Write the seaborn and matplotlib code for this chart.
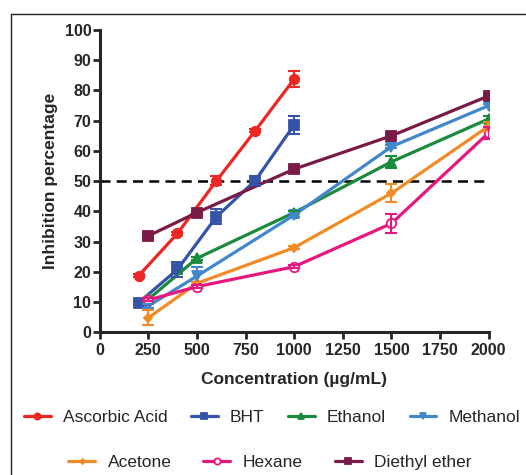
import numpy as np
import pandas as pd
import matplotlib
matplotlib.use('Agg')
import matplotlib.pyplot as plt
from matplotlib.lines import Line2D
import seaborn as sns

# data
conc_std = [200, 400, 600, 800, 1000]
conc_ext = [250, 500, 1000, 1500, 2000]

ascorbic = [18.7, 32.7, 50.1, 66.7, 83.8]
ascorbic_err = [0.5, 0.5, 1.5, 0.5, 2.5]
bht = [9.8, 20.8, 38.2, 50.2, 68.6]
bht_err = [0.5, 2.5, 2.5, 1.5, 3.0]
ethanol = [10.9, 24.5, 39.6, 56.4, 70.6]
ethanol_err = [0.5, 0.5, 0.5, 2.0, 1.0]
methanol = [8.7, 18.6, 38.8, 61.4, 75.0]
methanol_err = [0.5, 3.0, 0.5, 0.5, 0.5]
acetone = [4.8, 16.2, 28.0, 46.0, 68.2]
acetone_err = [2.5, 0.5, 0.5, 3.0, 1.5]
hexane = [10.7, 15.1, 21.7, 36.0, 66.0]
hexane_err = [0.5, 0.5, 0.5, 3.0, 2.0]
diethyl = [31.9, 39.6, 54.0, 65.0, 78.2]
diethyl_err = [0.5, 0.5, 0.5, 0.5, 0.5]

series = [
    ('Ascorbic Acid', conc_std, ascorbic, ascorbic_err, '#ee2624', 'o', 6.8, True),
    ('BHT', conc_std, bht, bht_err, '#3553a8', 's', 6.8, True),
    ('Ethanol', conc_ext, ethanol, ethanol_err, '#1b8a3c', '^', 7, True),
    ('Methanol', conc_ext, methanol, methanol_err, '#4287cc', 'v', 7, True),
    ('Acetone', conc_ext, acetone, acetone_err, '#f28b25', 'D', 3.8, True),
    ('Hexane', conc_ext, hexane, hexane_err, '#e8177f', 'o', 6.8, False),
    ('Diethyl ether', conc_ext, diethyl, diethyl_err, '#7a1a46', 's', 7.5, True),
]

sns.set_style('ticks')
plt.rcParams['font.family'] = ['Liberation Sans', 'DejaVu Sans']

fig = plt.figure(figsize=(5.26, 4.75), dpi=100)
ax = fig.add_axes([0.1895, 0.3004, 0.7395, 0.6364])

for name, xs, ys, errs, col, mk, ms, filled in series:
    df = pd.DataFrame({'x': xs, 'y': ys})
    kw = dict(markerfacecolor=col) if filled else dict(markerfacecolor='white')
    sns.lineplot(data=df, x='x', y='y', ax=ax, color=col, marker=mk,
                 markersize=ms, markeredgecolor=col, markeredgewidth=1.3,
                 linewidth=2.3, label=name, zorder=3, **kw)
    ax.errorbar(xs, ys, yerr=errs, fmt='none', ecolor=col, elinewidth=1.5,
                capsize=4, capthick=1.5, zorder=4)

ax.axhline(50, color='black', linestyle=(0, (4, 2.5)), linewidth=1.8, zorder=2)

ax.set_xlim(0, 2000)
ax.set_ylim(0, 100)
ax.set_xticks(np.arange(0, 2001, 250))
ax.set_yticks(np.arange(0, 101, 10))
for lab in ax.get_xticklabels() + ax.get_yticklabels():
    lab.set_fontweight('bold')
ax.tick_params(axis='both', labelsize=11.5, width=2, length=5, direction='out')
ax.tick_params(axis='x', pad=3)
ax.tick_params(axis='y', pad=1)
for s in ['left', 'bottom']:
    ax.spines[s].set_linewidth(2.2)
sns.despine(ax=ax)

ax.set_xlabel('Concentration (µg/mL)', fontsize=12.5, fontweight='bold', labelpad=10)
ax.set_ylabel('Inhibition percentage', fontsize=12.5, fontweight='bold', labelpad=5)

handles, labels = ax.get_legend_handles_labels()
ax.get_legend().remove()
leg1 = fig.legend(handles[:4], labels[:4], ncol=4, loc='center', bbox_to_anchor=(0.517, 0.122),
                  frameon=False, fontsize=12.5, handlelength=1.55, columnspacing=1.35,
                  handletextpad=0.7, borderaxespad=0, borderpad=0, markerscale=0.65)
leg2 = fig.legend(handles[4:], labels[4:], ncol=3, loc='center', bbox_to_anchor=(0.513, 0.027),
                  frameon=False, fontsize=12.5, handlelength=1.55, columnspacing=1.85,
                  handletextpad=0.7, borderaxespad=0, borderpad=0, markerscale=0.65)

# outer frame (left and top edges only)
fx = 11 / 526
fy = 1 - 14 / 475
fig.add_artist(Line2D([fx, fx], [0, fy], transform=fig.transFigure, color='#222222', linewidth=1))
fig.add_artist(Line2D([fx, 1], [fy, fy], transform=fig.transFigure, color='#222222', linewidth=1))

fig.savefig('out.png', dpi=100)
